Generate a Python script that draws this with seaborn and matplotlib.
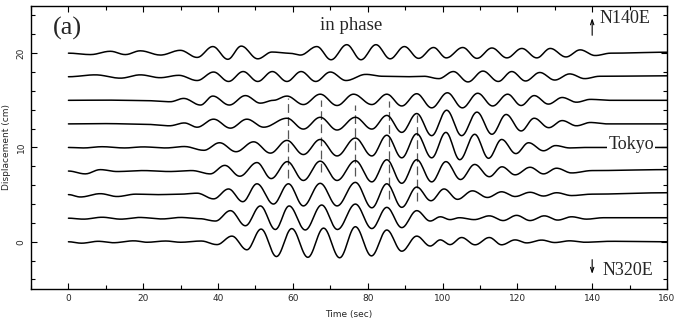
import numpy as np
import pandas as pd
import matplotlib
matplotlib.use("Agg")
import matplotlib.pyplot as plt
from matplotlib.ticker import MultipleLocator
import seaborn as sns

# ---- data: extrema (time s, displacement cm) of each trace ----
offsets = [0.0, 2.5, 5.0, 7.5, 10.0, 12.5, 15.0, 17.5, 20.0]

tr0_t = [0, 3.5, 8, 12, 17.5, 21, 26, 30, 35.5, 39.7, 43.7, 47.7, 51.5, 55.6, 59.7, 64.0, 68.2, 72.5, 76.7, 81.0, 85.1, 89.1, 93.1, 96.7, 99.4, 102.0, 105.1, 108.7, 112.5, 115.8, 119.4, 122.5, 126.5, 130, 134, 138, 145, 160]
tr0_a = [0, -0.15, 0.05, -0.1, 0.1, -0.05, 0.08, -0.05, 0.08, -0.3, 0.6, -0.85, 1.35, -1.57, 1.4, -1.65, 1.45, -1.7, 1.6, -1.5, 1.25, -1.0, 0.6, -0.45, 0.2, -0.3, 0.45, -0.32, 0.45, -0.32, 0.2, -0.12, 0.18, -0.08, 0.1, -0.05, 0.05, 0.0]

tr1_t = [0, 4, 9, 14, 19, 25, 30, 35, 39.3, 43.3, 47.3, 51.3, 55.3, 59.0, 63.3, 67.7, 71.9, 76.7, 81.1, 85.1, 89.1, 93.1, 96.7, 99.4, 102, 104.5, 108.5, 112.5, 116.2, 119.8, 123.4, 127.2, 130.8, 134.5, 138.5, 143, 160]
tr1_a = [0, -0.1, 0.1, -0.1, 0.08, -0.08, 0.08, -0.05, -0.3, 0.8, -0.8, 1.3, -1.2, 1.3, -1.25, 1.4, -1.2, 1.5, -1.1, 1.15, -1.0, 0.8, -0.3, 0.15, -0.15, 0.05, -0.15, 0.25, -0.25, 0.3, -0.25, 0.25, -0.2, 0.15, -0.1, 0.05, 0.05]

tr2_t = [0, 3.2, 8.5, 13, 18, 24, 30, 34.4, 38.8, 42.8, 46.6, 50.4, 54.8, 58.8, 62.8, 67.3, 71.8, 76.7, 81.1, 85.1, 89.1, 93.1, 96.9, 100.4, 104.0, 108.0, 112.0, 115.8, 119.4, 123.4, 127.0, 130.5, 134.5, 140, 160]
tr2_a = [0, -0.25, 0.1, -0.2, 0.05, 0.0, 0.05, 0.15, -0.45, 0.6, -0.75, 1.15, -1.0, 1.15, -1.2, 1.2, -1.2, 1.3, -1.4, 1.15, -1.35, 0.8, -0.65, 0.6, -0.5, 0.4, -0.3, 0.3, -0.2, 0.25, -0.15, 0.2, -0.1, 0.05, 0.2]

tr3_t = [0, 4.5, 8.5, 13, 20, 27, 33, 37.9, 41.8, 45.8, 50.4, 54.2, 58.5, 62.8, 67.3, 71.8, 76.7, 81.1, 85.1, 89.1, 93.1, 97.1, 100.9, 104.8, 108.6, 112.5, 115.9, 119.4, 123.4, 127.0, 130.5, 134.5, 140, 160]
tr3_a = [0, -0.3, 0.15, -0.05, 0.05, -0.05, 0.05, -0.3, 0.6, -0.55, 0.9, -0.8, 1.0, -1.0, 1.05, -1.0, 1.1, -1.15, 1.2, -1.3, 1.2, -1.15, 1.0, -0.9, 0.7, -0.6, 0.45, -0.4, 0.4, -0.3, 0.3, -0.2, 0.05, 0.15]

tr4_t = [0, 4, 9, 15, 20, 26, 31, 36.2, 40.4, 44.8, 49.5, 54.0, 58.4, 62.8, 67.3, 71.8, 76.7, 81.1, 85.1, 89.1, 93.1, 97.1, 100.9, 104.6, 108.6, 112.3, 115.8, 119.6, 123.0, 127.0, 130.2, 134, 138, 160]
tr4_a = [0, -0.05, 0.08, -0.05, 0.06, -0.05, 0.1, -0.3, 0.5, -0.45, 0.6, -0.6, 0.75, -0.75, 0.85, -0.9, 1.0, -0.9, 1.3, -1.1, 1.45, -1.1, 1.6, -1.3, 1.4, -1.15, 0.85, -0.65, 0.5, -0.35, 0.2, -0.05, 0.0, 0.0]

tr5_t = [0, 10, 20, 27, 31, 34.4, 38.8, 43.3, 47.7, 52.2, 58.4, 62.8, 67.3, 71.8, 76.7, 81.1, 85.1, 89.1, 93.1, 97.1, 101.1, 105.1, 109.2, 113.2, 117.0, 121.0, 124.5, 128.4, 132.0, 135.8, 139.5, 144, 160]
tr5_a = [0, 0.03, -0.03, -0.2, 0.1, -0.35, 0.5, -0.45, 0.5, -0.35, 0.6, -0.55, 0.7, -0.65, 0.7, -0.55, 0.9, -0.9, 1.1, -1.25, 1.45, -1.25, 1.25, -1.1, 1.0, -0.75, 0.6, -0.4, 0.35, -0.2, 0.15, 0.0, 0.0]

tr6_t = [0, 10, 20, 27.2, 30.8, 35.3, 38.6, 43.0, 47.3, 51.3, 54.8, 58.4, 62.8, 67.3, 71.8, 76.2, 81.1, 85.1, 89.1, 93.1, 97.1, 101.3, 105.3, 109.4, 113.4, 117.4, 121.0, 124.5, 128.3, 132.0, 135.8, 139.5, 145, 160]
tr6_a = [0, 0.02, -0.02, -0.15, 0.2, -0.5, 0.45, -0.5, 0.5, -0.3, 0.0, 0.45, -0.45, 0.65, -0.55, 0.65, -0.45, 0.65, -0.6, 0.7, -0.8, 0.8, -0.8, 0.75, -0.6, 0.65, -0.55, 0.5, -0.4, 0.3, -0.2, 0.1, 0.0, 0.0]

tr7_t = [0, 7.2, 13.9, 19.2, 24.5, 29.5, 34.4, 38.8, 42.8, 46.7, 50.6, 54.5, 58.4, 62.2, 66.1, 70.0, 74.2, 79.5, 84, 90, 95, 99.0, 102.9, 106.8, 110.8, 114.9, 118.5, 122.2, 126.0, 130.0, 134.0, 138.0, 142, 160]
tr7_a = [0, 0.2, -0.15, 0.2, -0.1, 0.15, -0.4, 0.5, -0.5, 0.55, -0.5, 0.55, -0.5, 0.55, -0.5, 0.5, -0.4, 0.25, 0.05, 0.0, 0.05, -0.2, 0.55, -0.55, 0.6, -0.5, 0.55, -0.45, 0.45, -0.35, 0.3, -0.2, 0.05, 0.1]

tr8_t = [0, 5.9, 11.2, 15.2, 19.2, 24.6, 29.9, 34.4, 38.6, 42.6, 46.2, 50.6, 54.4, 59.0, 62.0, 66.4, 70.2, 74.4, 78.2, 82.2, 86.0, 89.8, 93.6, 97.6, 101.0, 105.4, 109.2, 113.2, 117.2, 121.2, 125.2, 128.8, 133.0, 136.8, 140.8, 145, 160]
tr8_a = [0, -0.15, 0.2, -0.15, 0.25, -0.2, 0.3, -0.45, 0.7, -0.65, 0.75, -0.6, 0.12, 0.0, -0.2, 0.7, -0.7, 0.9, -0.7, 0.9, -0.6, 0.7, -0.55, 0.6, -0.5, 0.6, -0.55, 0.55, -0.5, 0.5, -0.5, 0.5, -0.4, 0.35, -0.25, 0.0, 0.1]

# "in phase" dashed markers
dash_t = [58.6, 67.5, 76.7, 85.6, 93.1]
dash_top = [15.2, 15.0, 14.5, 14.9, 13.4]
dash_bot = [6.8, 7.4, 7.0, 4.5, 4.3]

xticks = [0, 20, 40, 60, 80, 100, 120, 140, 160]
yticks = [0, 10, 20]

traces_t = [tr0_t, tr1_t, tr2_t, tr3_t, tr4_t, tr5_t, tr6_t, tr7_t, tr8_t]
traces_a = [tr0_a, tr1_a, tr2_a, tr3_a, tr4_a, tr5_a, tr6_a, tr7_a, tr8_a]


def smooth_trace(ts, amps, n=14):
    """Draw a smooth wave through the extrema (half-cosine between them)."""
    xs, ys = [], []
    for i in range(len(ts) - 1):
        u = np.linspace(0, 1, n, endpoint=False)
        w = (1 - np.cos(np.pi * u)) / 2
        xs.append(ts[i] + (ts[i + 1] - ts[i]) * u)
        ys.append(amps[i] + (amps[i + 1] - amps[i]) * w)
    xs.append([ts[-1]])
    ys.append([amps[-1]])
    return np.concatenate(xs), np.concatenate(ys)


frames = []
for k, (ts, amps) in enumerate(zip(traces_t, traces_a)):
    x, y = smooth_trace(ts, amps)
    frames.append(pd.DataFrame({"time": x, "disp": y + offsets[k], "trace": k}))
df = pd.concat(frames, ignore_index=True)

sns.set_style("ticks")
plt.rcParams["font.family"] = ["DejaVu Sans"]

fig = plt.figure(figsize=(6.82, 3.25), dpi=100)
ax = fig.add_axes([0.0455, 0.111, 0.9325, 0.8705])

sns.lineplot(data=df, x="time", y="disp", units="trace", estimator=None,
             sort=False, color="black", lw=1.1, ax=ax, legend=False)

for t, top, bot in zip(dash_t, dash_top, dash_bot):
    ax.plot([t, t], [bot, top], color="#555555", lw=0.9, linestyle=(0, (7, 3.5)), zorder=1)

ax.set_xlim(-10, 160)
ax.set_ylim(-5, 25)
ax.set_xticks(xticks)
ax.set_yticks(yticks)
ax.xaxis.set_minor_locator(MultipleLocator(10))
ax.yaxis.set_minor_locator(MultipleLocator(2))
ax.tick_params(which="both", direction="in", top=True, right=True, labelsize=6.5, width=0.8, color="black")
ax.tick_params(which="major", length=4.5)
ax.tick_params(which="minor", length=3)
ax.tick_params(axis="x", pad=4)
ax.tick_params(axis="y", pad=4)
plt.setp(ax.get_yticklabels(), rotation=90, va="center")
for sp in ax.spines.values():
    sp.set_linewidth(1.0)
    sp.set_color("black")

ax.set_xlabel("Time (sec)", fontsize=6.5, labelpad=5)
ax.set_ylabel("Displacement (cm)", fontsize=6.5, labelpad=4)

serif = ["Liberation Serif", "DejaVu Serif"]
ax.text(-0.4, 22.6, "(a)", family=serif, fontsize=19, ha="center", va="center")
ax.text(75.6, 22.9, "in phase", family=serif, fontsize=13.5, ha="center", va="center")
ax.text(148.8, 23.7, "N140E", family=serif, fontsize=13, ha="center", va="center")
ax.text(150.4, 10.3, "Tokyo", family=serif, fontsize=13, ha="center", va="center",
        bbox=dict(facecolor="white", edgecolor="none", pad=1.0), zorder=5)
ax.text(149.6, -3.0, "N320E", family=serif, fontsize=13, ha="center", va="center")

ax.annotate("", xy=(140, 24.0), xytext=(140, 21.6),
            arrowprops=dict(arrowstyle="->,head_length=0.35,head_width=0.12", lw=0.8, color="black"))
ax.annotate("", xy=(140, -3.7), xytext=(140, -1.6),
            arrowprops=dict(arrowstyle="->,head_length=0.35,head_width=0.12", lw=0.8, color="black"))

fig.savefig("out.png", dpi=100)
